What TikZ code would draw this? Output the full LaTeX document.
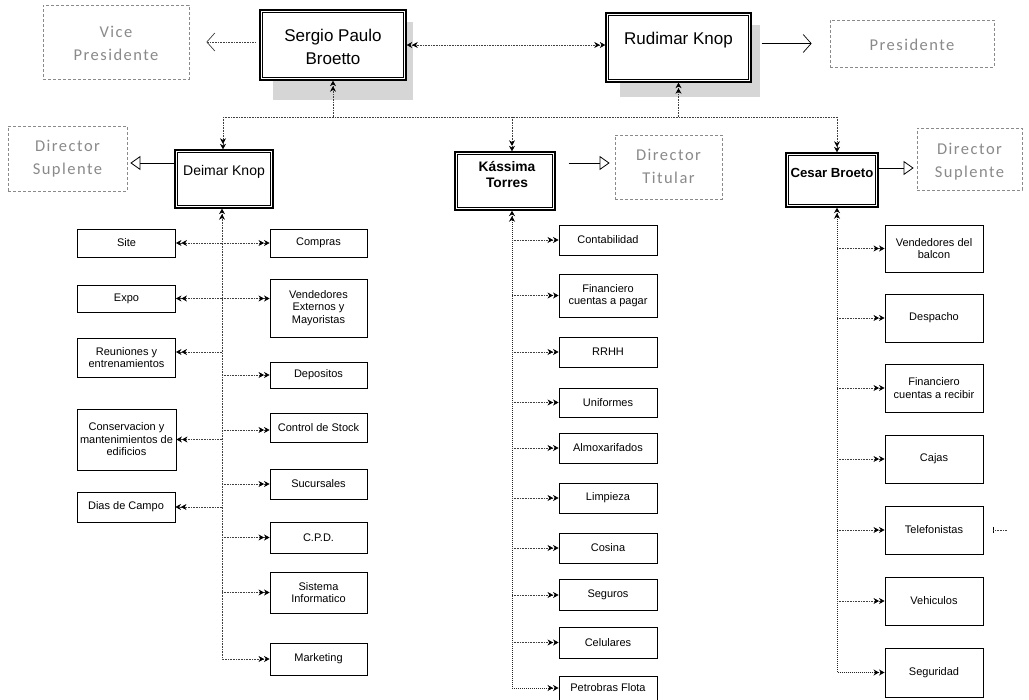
\documentclass[tikz,border=0pt]{standalone}
\usepackage{fontspec}
\setmainfont{Liberation Sans}
\newfontfamily\dirfont[LetterSpace=9]{Carlito}
\usetikzlibrary{arrows.meta}
\definecolor{dgray}{HTML}{8A8A8A}
\tikzset{
  >={Stealth[length=5.5pt,width=6pt,black]},
  dirbox/.style={draw=dgray, densely dashed, line width=0.7pt, inner sep=0pt},
  dirtext/.style={font=\dirfont\fontsize{16.5}{23}\selectfont, text=dgray, align=center, inner sep=0pt},
  mainbox/.style={draw=black, line width=1.4pt, inner sep=0pt, fill=white,
    path picture={\draw[line width=0.6pt]
      ([shift={(2.6pt,-2.6pt)}]path picture bounding box.north west) rectangle
      ([shift={(-2.6pt,2.6pt)}]path picture bounding box.south east);}},
  maintext/.style={align=center, inner sep=0pt},
  subbox/.style={draw, line width=0.9pt, inner sep=0pt, align=center, font=\fontsize{11}{12.5}\selectfont, fill=white},
  conn/.style={densely dotted, line width=0.6pt, black!75},
  spine/.style={densely dotted, line width=1pt, black!85},
  openarr/.style={-{Straight Barb[length=8pt,width=18pt,line width=0.7pt]}},
  triarr/.style={-{Triangle[open,length=10pt,width=14pt,line width=0.8pt]}},
}
\begin{document}
\begin{tikzpicture}[x=1pt,y=-1pt]
\useasboundingbox[fill=white] (0,0) rectangle (1029,700);

% shadows
\fill[black!16] (273,22) rectangle (413,100);
\fill[black!16] (620,25) rectangle (760,97);

% top level
\node[dirbox, minimum width=146pt, minimum height=74pt] (vice) at (116,42) {};
\node[dirtext] (viceT) at (116,43.5) {\fontsize{16.5}{27}\selectfont Vice\\Presidente};
\node[mainbox, minimum width=146pt, minimum height=70pt] (sergio) at (333,45) {};
\node[maintext, font=\fontsize{17}{23}\selectfont] (sergioT) at (333,46.5) {Sergio Paulo\\Broetto};
\node[mainbox, minimum width=145pt, minimum height=69pt] (rudimar) at (678.5,47.5) {};
\node[maintext, font=\fontsize{17}{21}\selectfont] (rudimarT) at (678.5,40) {Rudimar Knop};
\node[dirbox, minimum width=164pt, minimum height=47pt] (pres) at (912,43.5) {};
\node[dirtext] (presT) at (912,45) {Presidente};

% second level
\node[dirbox, minimum width=119pt, minimum height=65pt] (dsl) at (67.5,158.5) {};
\node[dirtext] (dslT) at (67.5,159) {Director\\Suplente};
\node[mainbox, minimum width=98pt, minimum height=58pt] (deimar) at (224,179) {};
\node[maintext, font=\fontsize{14}{16}\selectfont] (deimarT) at (224,172) {Deimar Knop};
\node[mainbox, minimum width=100pt, minimum height=58pt] (kassima) at (505,181) {};
\node[maintext, font=\bfseries\fontsize{13.8}{16}\selectfont] (kassimaT) at (507,175) {Kássima\\Torres};
\node[dirbox, minimum width=107pt, minimum height=64pt] (dtit) at (668.5,167) {};
\node[dirtext] (dtitT) at (668.5,166) {Director\\Titular};
\node[mainbox, minimum width=92pt, minimum height=54pt] (cesar) at (832,180) {};
\node[maintext, font=\bfseries\fontsize{13.2}{16}\selectfont] (cesarT) at (832,173) {Cesar Broeto};
\node[dirbox, minimum width=105pt, minimum height=62pt] (dsr) at (969.5,159) {};
\node[dirtext] (dsrT) at (969.5,162) {Director\\Suplente};

% left column
\node[subbox, minimum width=98pt, minimum height=28pt] (site) at (126.5,243) {Site};
\node[subbox, minimum width=97pt, minimum height=28pt] (compras) at (318.5,243) {Compras};
\node[subbox, minimum width=98pt, minimum height=27pt] (expo) at (126.5,298.5) {Expo};
\node[subbox, minimum width=97pt, minimum height=58pt] (vend) at (318.5,308) {Vendedores\\Externos y\\Mayoristas};
\node[subbox, minimum width=98pt, minimum height=39pt] (reun) at (126.5,357.5) {Reuniones y\\entrenamientos};
\node[subbox, minimum width=97pt, minimum height=26pt] (depo) at (318.5,375) {Depositos};
\node[subbox, minimum width=99pt, minimum height=61pt] (cons) at (126.5,439.5) {Conservacion y\\mantenimientos de\\edificios};
\node[subbox, minimum width=97pt, minimum height=29pt] (ctrl) at (318.5,427.5) {Control de Stock};
\node[subbox, minimum width=98pt, minimum height=30pt] (dias) at (126,507) {Dias de Campo};
\node[subbox, minimum width=97pt, minimum height=30pt] (suc) at (318.5,484) {Sucursales};
\node[subbox, minimum width=97pt, minimum height=31pt] (cpd) at (318.5,537.5) {C.P.D.};
\node[subbox, minimum width=97pt, minimum height=41pt] (sist) at (318.5,592.5) {Sistema\\Informatico};
\node[subbox, minimum width=97pt, minimum height=32pt] (mkt) at (318.5,659) {Marketing};

% middle column
\node[subbox, minimum width=98pt, minimum height=30pt] (cont) at (608,240) {Contabilidad};
\node[subbox, minimum width=98pt, minimum height=43pt] (finp) at (608,295.5) {Financiero\\cuentas a pagar};
\node[subbox, minimum width=98pt, minimum height=30pt] (rrhh) at (608,352) {RRHH};
\node[subbox, minimum width=98pt, minimum height=29pt] (unif) at (608,402.5) {Uniformes};
\node[subbox, minimum width=98pt, minimum height=30pt] (almox) at (608,448) {Almoxarifados};
\node[subbox, minimum width=98pt, minimum height=30pt] (limp) at (608,498) {Limpieza};
\node[subbox, minimum width=98pt, minimum height=30pt] (cosi) at (608,548) {Cosina};
\node[subbox, minimum width=98pt, minimum height=31pt] (segu) at (608,595) {Seguros};
\node[subbox, minimum width=98pt, minimum height=31pt] (celu) at (608,642.5) {Celulares};
\node[subbox, minimum width=98pt, minimum height=24pt] (petro) at (608,688) {Petrobras Flota};

% right column
\node[subbox, minimum width=98pt, minimum height=47pt] (vbal) at (934,248.5) {Vendedores del\\balcon};
\node[subbox, minimum width=98pt, minimum height=48pt] (desp) at (934,318) {Despacho};
\node[subbox, minimum width=98pt, minimum height=48pt] (finr) at (934,388) {Financiero\\cuentas a recibir};
\node[subbox, minimum width=98pt, minimum height=48pt] (cajas) at (934,459) {Cajas};
\node[subbox, minimum width=98pt, minimum height=48pt] (tel) at (934,530) {Telefonistas};
\node[subbox, minimum width=98pt, minimum height=48pt] (veh) at (934,601) {Vehiculos};
\node[subbox, minimum width=98pt, minimum height=49pt] (segd) at (934,672.5) {Seguridad};

% helper coordinates
\coordinate (lsp) at (222,0);
\coordinate (msp) at (512,0);
\coordinate (rsp) at (837,0);
\coordinate (busL) at (223,117);
\coordinate (busR) at (837,117);
\coordinate (dlY) at (0,163);
\coordinate (ktY) at (0,163);
\coordinate (crY) at (0,168);

% top connectors
\draw[conn, openarr, shorten <=4pt, shorten >=17pt] (vice.east -| sergio.west) -- (vice.east);
\draw[conn, <<->>] (sergio.east) -- (sergio.east -| rudimar.west);
\draw[line width=0.8pt, openarr, shorten <=10pt, shorten >=18pt] (pres.west -| rudimar.east) -- (pres.west);
\draw[conn] (busL) -- (busR);
\draw[conn, ->>] (sergio.south |- busL) -- (sergio.south);
\draw[conn, ->>] (rudimar.south |- busL) -- (rudimar.south);
\draw[conn, ->>] (busL) -- (busL |- deimar.north);
\draw[conn, ->>] (msp |- busL) -- (msp |- kassima.north);
\draw[conn, ->>] (busR) -- (busR |- cesar.north);

% title arrows
\draw[line width=0.8pt, triarr, shorten >=3pt] (deimar.west |- dlY) -- (dsl.east |- dlY);
\draw[line width=0.8pt, triarr, shorten <=13pt, shorten >=5pt] (kassima.east |- ktY) -- (dtit.west |- ktY);
\draw[line width=0.8pt, triarr, shorten >=3pt] (cesar.east |- crY) -- (dsr.west |- crY);

% left spine and branches
\draw[conn, <<->>] (lsp |- deimar.south) -- (lsp |- mkt.west) -- (mkt.west);
\draw[conn, ->>] (lsp |- site.east) -- (site.east);
\draw[conn, ->>] (lsp |- compras.west) -- (compras.west);
\draw[conn, ->>] (lsp |- expo.east) -- (expo.east);
\draw[conn, ->>] (lsp |- expo.east) -- (vend.west |- expo.east);
\draw[conn, ->>] ([yshift=5.5pt]reun.east -| lsp) -- ([yshift=5.5pt]reun.east);
\draw[conn, ->>] (lsp |- depo.west) -- (depo.west);
\draw[conn, ->>] (lsp |- cons.east) -- (cons.east);
\draw[conn, ->>] ([yshift=-2.5pt]ctrl.west -| lsp) -- ([yshift=-2.5pt]ctrl.west);
\draw[conn, ->>] (lsp |- dias.east) -- (dias.east);
\draw[conn, ->>] (lsp |- suc.west) -- (suc.west);
\draw[conn, ->>] (lsp |- cpd.west) -- (cpd.west);
\draw[conn, ->>] (lsp |- sist.west) -- (sist.west);

% middle spine and branches
\draw[spine, <<->>] (msp |- kassima.south) -- (msp |- petro.west) -- (petro.west);
\foreach \n in {cont,finp,rrhh,unif,almox,limp,cosi,segu,celu}
  \draw[conn, ->>] (msp |- \n.west) -- (\n.west);

% right spine and branches
\draw[spine, <<->>] (rsp |- cesar.south) -- (rsp |- segd.west) -- (segd.west);
\foreach \n in {vbal,desp,finr,cajas,tel,veh}
  \draw[conn, ->>] (rsp |- \n.west) -- (\n.west);

% stray mark by Telefonistas
\coordinate (stub) at ([xshift=10pt]tel.east);
\draw[line width=1pt] ([yshift=3pt]stub) -- ([yshift=-3pt]stub);
\draw[conn] (stub) -- ([xshift=14pt]stub);
\end{tikzpicture}
\end{document}
